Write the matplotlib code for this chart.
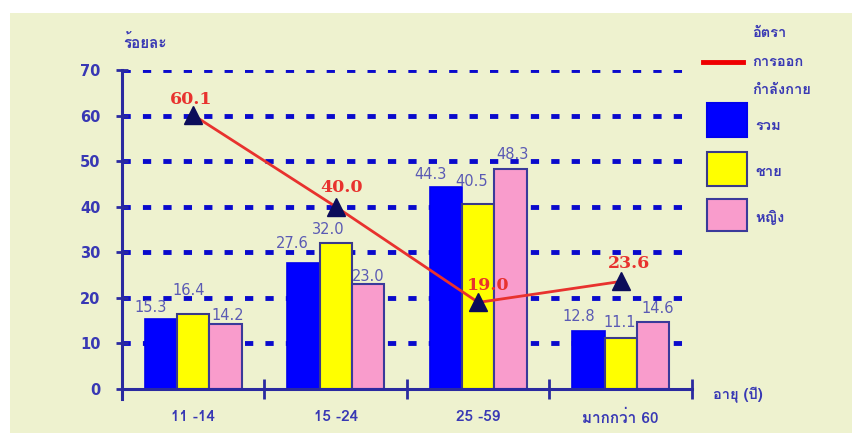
import matplotlib
matplotlib.use("Agg")
import matplotlib.pyplot as plt
from matplotlib import font_manager, ft2font
from matplotlib.patches import Rectangle
from matplotlib.lines import Line2D
import numpy as np

# ---------------- data ----------------
categories = ['11 -14', '15 -24', '25 -59', 'มากกว่า 60']
total = [15.3, 27.6, 44.3, 12.8]
male = [16.4, 32.0, 40.5, 11.1]
female = [14.2, 23.0, 48.3, 14.6]
rate = [60.1, 40.0, 19.0, 23.6]
yticks = [0, 10, 20, 30, 40, 50, 60, 70]
legend_labels = ['อัตรา\nการออก\nกำลังกาย', 'รวม', 'ชาย', 'หญิง']

# ---------------- fonts ----------------
thai_fams = []
for f in font_manager.fontManager.ttflist:
    try:
        ft = ft2font.FT2Font(f.fname)
        if ft.get_char_index(0x0E23) and ft.get_char_index(0x0E01):
            thai_fams.append(f.name)
    except Exception:
        pass
preferred = ['Loma', 'Garuda', 'Tlwg Typo', 'Waree', 'Kinnari', 'Norasi', 'Sawasdee']
thai_family = None
for p in preferred:
    if p in thai_fams:
        thai_family = p
        break
if thai_family is None and thai_fams:
    thai_family = thai_fams[0]
fams = ([thai_family] if thai_family else []) + ['DejaVu Sans']
plt.rcParams['font.family'] = fams

W, H = 853, 433
fig = plt.figure(figsize=(W / 100, H / 100), dpi=100, facecolor='white')
cream = '#eef2cf'
fig.patches.append(Rectangle((10 / W, 0), 1, 1 - 13 / H, transform=fig.transFigure,
                             facecolor=cream, edgecolor='none', zorder=-5))

def fx(px):
    return px / W

def fy(py):
    return 1 - py / H

ax = fig.add_axes([fx(122), fy(389), fx(692) - fx(122), fy(70) - fy(389)])
ax.set_facecolor('none')
ax.set_zorder(1)

navy = '#2a2aa0'
txtblue = '#3838b4'
barlab = '#5a5ab4'

x = np.arange(len(categories))
bw = 0.228
ax.bar(x - bw, total, bw, color='#0000ff', edgecolor='#0000ee', linewidth=1.2, zorder=2)
ax.bar(x, male, bw, color='#ffff00', edgecolor='#3a3a8a', linewidth=1.5, zorder=2)
ax.bar(x + bw, female, bw, color='#f99ccc', edgecolor='#3a3a9a', linewidth=1.5, zorder=2)

ax.plot(x, rate, color='#e8322e', linewidth=2.0, zorder=3)
ax.plot(x, rate, linestyle='none', marker='^', markersize=13, color='#0c0c5a', zorder=4)

# bar value labels (pixel offsets for layout)
offs_total = [(-10, 12), (-11, 20), (-15, 13), (-10, 14)]
offs_male = [(-5, 24), (-7, 14), (-7, 23), (-1, 16)]
offs_female = [(2, 9), (0, 8), (2, 14), (4, 14)]
for vals, dx, offs in [(total, -bw, offs_total), (male, 0, offs_male), (female, bw, offs_female)]:
    for i, v in enumerate(vals):
        ax.annotate(f'{v:.1f}', (x[i] + dx, v), xytext=offs[i], textcoords='offset pixels',
                    ha='center', va='center', fontsize=10.5, color=barlab,
                    family=['DejaVu Sans'], zorder=5, annotation_clip=False)

offs_rate = [(-2, 16), (6, 19), (10, 17), (8, 18)]
for i, v in enumerate(rate):
    ax.annotate(f'{v:.1f}', (x[i], v), xytext=offs_rate[i], textcoords='offset pixels',
                ha='center', va='center', fontsize=12.5, color='#e8322e', fontweight='bold',
                family=['DejaVu Serif'], zorder=5)

ax.set_xlim(-0.5, 3.5)
ax.set_ylim(0, 70)
ax.set_yticks(yticks)
ax.set_yticklabels([str(t) for t in yticks], color=txtblue, fontsize=10.5,
                   fontweight='bold', family=['DejaVu Sans'])
ax.yaxis.grid(True, color='#0a0acc', linewidth=3.5, linestyle=(0, (1.7, 2.5)), zorder=1)
ax.set_axisbelow(True)
ax.get_ygridlines()[0].set_visible(False)
ax.tick_params(axis='y', direction='inout', length=9, width=2, color=navy, pad=11)

ax.set_xticks([-0.5, 0.5, 1.5, 2.5, 3.5])
ax.set_xticklabels([])
ax.tick_params(axis='x', which='major', direction='inout', length=15, width=2, color=navy)
ax.set_xticks(x, minor=True)
ax.set_xticklabels(categories, minor=True, fontsize=11, fontweight='bold', color=txtblue)
ax.tick_params(axis='x', which='minor', length=0, pad=15)

for s in ['top', 'right']:
    ax.spines[s].set_visible(False)
for s in ['left', 'bottom']:
    ax.spines[s].set_color(navy)
    ax.spines[s].set_linewidth(2.2)
ax.spines['left'].set_bounds(-2.2, 70)

fig.text(fx(145), fy(43), 'ร้อยละ', ha='center', va='center', fontsize=11,
         fontweight='bold', color=txtblue)
fig.text(fx(713), fy(395), 'อายุ (ปี)', ha='left', va='center', fontsize=10.5,
         fontweight='bold', color=txtblue)

# legend (manual)
fig.lines.append(Line2D([fx(703), fx(743)], [fy(62), fy(62)], transform=fig.transFigure,
                        color='#ee0000', linewidth=3.5))
for (y0, y1, c, ec) in [(103, 137, '#0000ff', '#0000ee'), (152, 186, '#ffff00', '#3a3a8a'),
                        (199, 231, '#f99ccc', '#3a3a9a')]:
    fig.patches.append(Rectangle((fx(707), fy(y1)), fx(747) - fx(707), fy(y0) - fy(y1),
                                 transform=fig.transFigure, facecolor=c, edgecolor=ec,
                                 linewidth=1.5))
for t, yy in zip(legend_labels[0].split('\n'), [33, 62, 90]):
    fig.text(fx(752), fy(yy), t, ha='left', va='center', fontsize=10.5, fontweight='bold',
             color=txtblue)
for t, yy in zip(legend_labels[1:], [126, 172, 217]):
    fig.text(fx(755), fy(yy), t, ha='left', va='center', fontsize=10.5, fontweight='bold',
             color=txtblue)

fig.savefig('out.png', dpi=100, facecolor=fig.get_facecolor())
